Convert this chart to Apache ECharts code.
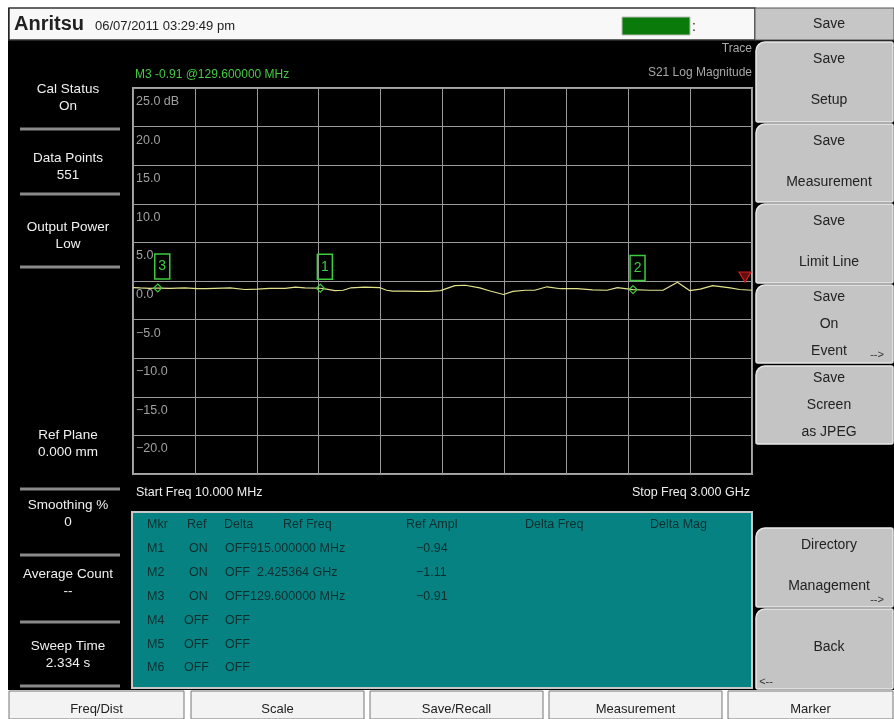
<!DOCTYPE html>
<html>
<head>
<meta charset="utf-8">
<script src="https://cdn.jsdelivr.net/npm/echarts@6/dist/echarts.min.js"></script>
<style>html,body{margin:0;padding:0;background:#fff}#c{width:894px;height:719px}</style>
</head>
<body>
<div id="c"></div>
<script>
// ---- data ----
const freqMHz = [10,45,90,130,190,260,320,360,405,480,550,610,670,745,795,840,915,945,985,1025,1060,1130,1200,1235,1265,1325,1395,1440,1495,1565,1615,1685,1735,1800,1845,1905,1950,2010,2075,2155,2230,2300,2350,2425.364,2505,2570,2640,2700,2750,2810,2895,2940,3000];
const s21dB   = [-0.85,-0.9,-0.95,-0.91,-0.95,-0.9,-1.0,-1.0,-0.95,-0.9,-1.1,-1.05,-0.95,-0.95,-0.8,-0.9,-0.94,-1.05,-1.25,-1.2,-0.9,-0.8,-0.85,-1.2,-1.3,-1.3,-1.35,-1.35,-1.25,-0.6,-0.55,-0.9,-1.3,-1.75,-1.35,-1.2,-1.2,-0.75,-1.0,-1.0,-1.15,-1.2,-0.85,-1.11,-1.2,-1.2,-0.15,-1.25,-1.05,-0.6,-0.9,-1.1,-1.2];
const markerNames   = ['1','2','3'];
const markerFreqMHz = [915, 2425.364, 129.6];
const markerDb      = [-0.94, -1.11, -0.91];
const yMin = -25, yMax = 25, yStep = 5;
const fStart = 10, fStop = 3000;

const headerDate = '06/07/2011 03:29:49 pm';
const activeMarkerText = 'M3 -0.91 @129.600000 MHz';
const traceTitle = ['Trace', 'S21 Log Magnitude'];
const startText = 'Start Freq 10.000 MHz';
const stopText = 'Stop Freq 3.000 GHz';

const leftLabels = [['Cal Status','On'],['Data Points','551'],['Output Power','Low'],['Ref Plane','0.000 mm'],['Smoothing %','0'],['Average Count','--'],['Sweep Time','2.334 s']];
const softTitle = 'Save';
const softKeys = [['Save','','Setup'],['Save','','Measurement'],['Save','','Limit Line'],['Save','On','Event'],['Save','Screen','as JPEG'],['Directory','','Management'],['','Back','']];
const tabs = ['Freq/Dist','Scale','Save/Recall','Measurement','Marker'];

const tableHeader = ['Mkr','Ref','Delta','Ref Freq','Ref Ampl','Delta Freq','Delta Mag'];
const tableRows = [
  ['M1','ON','OFF','915.000000 MHz','-0.94'],
  ['M2','ON','OFF','  2.425364 GHz','-1.11'],
  ['M3','ON','OFF','129.600000 MHz','-0.91'],
  ['M4','OFF','OFF','',''],
  ['M5','OFF','OFF','',''],
  ['M6','OFF','OFF','','']
];

// ---- layout ----
const FF = "'Liberation Sans', Arial, sans-serif";
const G = {left:133, top:88, width:619, height:386};
const chart = echarts.init(document.getElementById('c'), null, {renderer:'canvas'});
const gfx = [];
function txt(t, x, y, fill, size, align, extra) {
  gfx.push(Object.assign({type:'text', z:10, style:{text:t, x:x, y:y, fill:fill, font:(size||13)+'px '+FF, textAlign:align||'left', textVerticalAlign:'middle'}}, extra||{}));
}
function rect(x,y,w,h,fill,stroke,lw,r){
  gfx.push({type:'rect', z:5, shape:{x:x,y:y,width:w,height:h,r:r||0}, style:{fill:fill, stroke:stroke||null, lineWidth:lw||0}});
}
// margins & header
rect(0,0,894,8,'#ffffff');
rect(0,0,8,719,'#ffffff');
rect(9,8,746,32,'#f7f8f7','#333',1.5);
gfx.push({type:'text', z:10, style:{text:'Anritsu', x:14, y:24, fill:'#222', font:'bold 20px '+FF, textAlign:'left', textVerticalAlign:'middle'}});
txt(headerDate, 95, 26, '#222', 13);
rect(622,17,68,18,'#0a7a0a','#bbb',1);
txt(':', 692, 27, '#222', 14);
// right soft keys
rect(755,8,139,32,'#c6c6c6','#555',1);
txt(softTitle, 829, 24, '#222', 14, 'center');
const skY = [42,124,204,285,366,528,609];
const skH = [80,78,79,78,78,79,80];
softKeys.forEach((k,i)=>{
  const y = skY[i], h = skH[i];
  rect(756,y,137,h,'#c4c4c4','#e8e8e8',1.5,[9,2,2,2]);
  if (k[1]==='' && k[0]!=='') { txt(k[0],829,y+17,'#222',14,'center'); txt(k[2],829,y+58,'#222',14,'center'); }
  else if (k[0]==='' ) { txt(k[1],829,y+38,'#222',14,'center'); }
  else { txt(k[0],829,y+12,'#222',14,'center'); txt(k[1],829,y+39,'#222',14,'center'); txt(k[2],829,y+66,'#222',14,'center'); }
});
txt('-->', 877, 355, '#333', 11, 'center');
txt('-->', 877, 600, '#333', 11, 'center');
txt('<--', 766, 682, '#333', 11, 'center');
// left panel
const lY = [89,158,227,435,505,574,646];
leftLabels.forEach((l,i)=>{ txt(l[0],68,lY[i],'#f0f0f0',13.5,'center'); txt(l[1],68,lY[i]+17,'#f0f0f0',13.5,'center'); });
[129,194,267,489,555,622,686].forEach(y=>rect(20,y-1.5,100,3,'#8a8a8a'));
// plot texts
txt(activeMarkerText, 135, 75, '#46c846', 12);
txt(traceTitle[0], 752, 49, '#a8a8a8', 12, 'right');
txt(traceTitle[1], 752, 73, '#a8a8a8', 12, 'right');
txt(startText, 136, 493, '#eeeeee', 12.5);
txt(stopText, 750, 493, '#eeeeee', 12.5, 'right');
// red limit flag
gfx.push({type:'polygon', z:10, shape:{points:[[739,272],[751,272],[745,282]]}, style:{fill:'rgba(200,30,30,0.5)', stroke:'#d02020', lineWidth:1.2}});
// marker table
rect(132,512,620,176,'#078282','#c8c8c8',2);
const tc = '#0f2e2e';
const hx = [147,187,224,283,406,525,650];
tableHeader.forEach((h,i)=>txt(h,hx[i],525,tc,12.5));
tableRows.forEach((r,i)=>{
  const y = 549 + i*23.8;
  txt(r[0],147,y,tc,12.5);
  txt(r[1], r[1]==='ON'?189:184, y, tc, 12.5);
  txt(r[2]+r[3],225,y,tc,12.5);
  if (r[4]) txt(r[4].replace('-','\u2212'),416,y,tc,12.5);
});
// bottom tabs
rect(8,690,886,29,'#ffffff');
const tabX = [8,190,369,548,727], tabW = [177,175,175,175,167];
tabs.forEach((t,i)=>{ rect(tabX[i]+1,691,tabW[i]-2,28,'#f3f3f3','#777',1); txt(t,tabX[i]+tabW[i]/2,709,'#222',13,'center'); });

const markerData = markerFreqMHz.map((f,i)=>[f, markerDb[i], i]);
const MG = '#3ccc3c';

chart.setOption({
  backgroundColor:'#000',
  animation:false,
  grid:{left:G.left, top:G.top, width:G.width, height:G.height, show:true, borderColor:'#a8a8a8', borderWidth:2, backgroundColor:'transparent'},
  xAxis:[
    {type:'value', min:fStart, max:fStop, show:true, axisLine:{show:false}, axisTick:{show:false}, axisLabel:{show:false}, splitLine:{show:false}},
    {type:'value', min:0, max:10, interval:1, position:'top', axisLine:{show:false}, axisTick:{show:false}, axisLabel:{show:false}, splitLine:{show:true, lineStyle:{color:'#9a9a9a', width:1}}}
  ],
  yAxis:{type:'value', min:yMin, max:yMax, interval:yStep, axisLine:{show:false}, axisTick:{show:false},
    splitLine:{show:true, lineStyle:{color:'#9a9a9a', width:1}},
    axisLabel:{inside:true, showMinLabel:false, color:'#a0a0a0', fontSize:12.5, fontFamily:FF, align:'left', verticalAlign:'top', padding:[7,0,0,0], margin:3,
      formatter:v=> v===yMax ? v.toFixed(1)+' dB' : (v<0?'\u2212'+(-v).toFixed(1):v.toFixed(1))}},
  series:[
    {type:'line', xAxisIndex:0, data:freqMHz.map((f,i)=>[f,s21dB[i]]), symbol:'none', lineStyle:{color:'#e2e28c', width:1.2}, z:3},
    {type:'custom', xAxisIndex:0, data:markerData, z:4,
      renderItem:(params, api)=>{
        const p = api.coord([api.value(0), api.value(1)]);
        const idx = api.value(2);
        return {type:'group', children:[
          {type:'polygon', shape:{points:[[p[0],p[1]-4],[p[0]+4,p[1]],[p[0],p[1]+4],[p[0]-4,p[1]]]}, style:{fill:'none', stroke:MG, lineWidth:1.2}},
          {type:'rect', shape:{x:p[0]-3, y:p[1]-34, width:15, height:25}, style:{fill:'none', stroke:MG, lineWidth:1.5}},
          {type:'text', style:{text:markerNames[idx], x:p[0]+4.5, y:p[1]-21.5, fill:MG, font:'14px '+FF, textAlign:'center', textVerticalAlign:'middle'}}
        ]};
      }}
  ],
  graphic:{elements:gfx}
});
</script>
</body>
</html>
